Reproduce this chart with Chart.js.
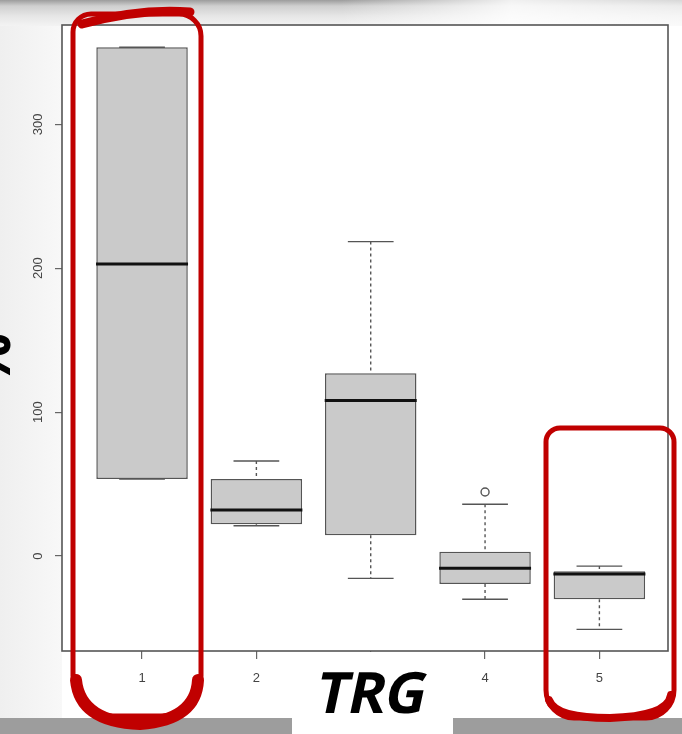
<!DOCTYPE html>
<html>
<head>
<meta charset="utf-8">
<script src="https://cdn.jsdelivr.net/npm/chart.js@4.4.1/dist/chart.umd.min.js"></script>
<style>
    html, body { margin: 0; padding: 0; }
    body { width: 682px; height: 734px; position: relative; overflow: hidden; background: #fff; }
    .bg-top {
        position: absolute; left: 0; top: 0; width: 682px; height: 26px;
        background:
            linear-gradient(to right, rgba(255,255,255,0) 0%, rgba(255,255,255,0) 50%, rgba(255,255,255,0.85) 75%, rgba(255,255,255,0.6) 100%),
            linear-gradient(to bottom, #9c9c9c 0px, #cfcfcf 6px, #e6e6e6 16px, #f3f3f3 26px);
    }
    .bg-left {
        position: absolute; left: 0; top: 26px; width: 62px; height: 692px;
        background: linear-gradient(to right, #efefef, #f8f8f8);
    }
    .bg-bottom { position: absolute; left: 0; top: 718px; width: 682px; height: 16px; background: #9d9d9d; }
    #wrap { position: absolute; left: 0; top: 0; width: 682px; height: 734px; }
    .xtitle {
        position: absolute; left: 292px; top: 652px; width: 161px; height: 82px; background: #fff;
        text-align: center;
    }
    .xtitle span {
        display: inline-block; transform: skewX(-12deg);
        font-family: 'Open Sans', 'Noto Sans', sans-serif; font-weight: 700; font-style: normal;
        font-size: 57px; color: #000; line-height: 78px; letter-spacing: -1px;
    }
    .ytitle {
        position: absolute; left: -51px; top: 320px; width: 80px; height: 80px;
        font-family: 'Open Sans', 'Noto Sans', sans-serif; font-weight: 700;
        font-size: 60px; color: #000; text-align: center; line-height: 80px;
        transform: rotate(90deg);
    }
</style>
</head>
<body>
<div class="bg-top"></div>
<div class="bg-left"></div>
<div class="bg-bottom"></div>
<div id="wrap"><canvas id="boxChart" width="682" height="734"></canvas></div>
<div class="ytitle">%</div>
<div class="xtitle"><span>TRG</span></div>
<script>
// TRG groups and five-number summaries
const categories = [1, 2, 3, 4, 5];
const xTickLabels = ['1', '2', '3', '4', '5'];
const yTickValues = [0, 100, 200, 300];
const lowerQuartile = [53.5, 22, 14.5, -19.5, -30];
const upperQuartile = [353.5, 53.5, 127, 3, -10.5];
const medians = [203, 32, 108, -8.5, -12.5];
const whiskerLow = [53.5, 21, -15.5, -30, -51];
const whiskerHigh = [353.5, 66, 218.5, 36, -7];
const outlierGroups = [4];
const outlierValues = [44.5];

const BOX_HALF = 0.4;
const CAP_HALF = 0.2;

const whiskerPlugin = {
    id: 'whiskers',
    beforeDatasetsDraw(chart) {
        const { ctx, scales: { x, y } } = chart;
        ctx.save();
        ctx.strokeStyle = '#555';
        ctx.lineWidth = 1.4;
        categories.forEach((c, i) => {
            const px = x.getPixelForValue(c);
            const capL = x.getPixelForValue(c - CAP_HALF);
            const capR = x.getPixelForValue(c + CAP_HALF);
            const yHi = y.getPixelForValue(whiskerHigh[i]);
            const yLo = y.getPixelForValue(whiskerLow[i]);
            ctx.setLineDash([3, 3]);
            ctx.beginPath();
            ctx.moveTo(px, yHi);
            ctx.lineTo(px, y.getPixelForValue(upperQuartile[i]));
            ctx.moveTo(px, y.getPixelForValue(lowerQuartile[i]));
            ctx.lineTo(px, yLo);
            ctx.stroke();
            ctx.setLineDash([]);
            ctx.beginPath();
            ctx.moveTo(capL, yHi);
            ctx.lineTo(capR, yHi);
            ctx.moveTo(capL, yLo);
            ctx.lineTo(capR, yLo);
            ctx.stroke();
        });
        ctx.restore();
    },
};

const framePlugin = {
    id: 'frame',
    afterDraw(chart) {
        const { ctx, chartArea: a, scales: { y } } = chart;
        ctx.save();
        ctx.strokeStyle = '#555';
        ctx.lineWidth = 1.6;
        ctx.strokeRect(a.left, a.top, a.right - a.left, a.bottom - a.top);

        // y tick labels, rotated like base R
        ctx.fillStyle = '#444';
        ctx.font = '13px "Liberation Sans", Arial, sans-serif';
        ctx.textAlign = 'center';
        ctx.textBaseline = 'middle';
        yTickValues.forEach((v) => {
            ctx.save();
            ctx.translate(38, y.getPixelForValue(v));
            ctx.rotate(-Math.PI / 2);
            ctx.fillText(String(v), 0, 0);
            ctx.restore();
        });

        // red marker rings
        ctx.strokeStyle = '#c00000';
        ctx.lineCap = 'round';
        ctx.lineWidth = 5;
        ctx.beginPath();
        ctx.roundRect(73, 14, 128, 702, [18, 22, 40, 40]);
        ctx.stroke();
        ctx.lineWidth = 12;
        ctx.beginPath();
        ctx.moveTo(76, 680);
        ctx.quadraticCurveTo(80, 722, 140, 724);
        ctx.quadraticCurveTo(196, 720, 198, 680);
        ctx.stroke();
        ctx.lineWidth = 9;
        ctx.beginPath();
        ctx.moveTo(82, 24);
        ctx.quadraticCurveTo(140, 8, 190, 12);
        ctx.stroke();

        ctx.lineWidth = 5;
        ctx.beginPath();
        ctx.roundRect(546, 428, 128, 290, [14, 14, 28, 28]);
        ctx.stroke();
        ctx.lineWidth = 8;
        ctx.beginPath();
        ctx.moveTo(549, 700);
        ctx.quadraticCurveTo(555, 718, 610, 718);
        ctx.quadraticCurveTo(668, 716, 671, 695);
        ctx.stroke();
        ctx.restore();
    },
};

new Chart(document.getElementById('boxChart'), {
    type: 'bar',
    data: {
        datasets: [
            {
                type: 'scatter',
                label: 'Median',
                data: categories.map((c, i) => ({ x: c, y: medians[i] })),
                pointStyle: 'line',
                radius: 46,
                borderWidth: 3,
                borderColor: '#111',
                order: 1,
            },
            {
                type: 'scatter',
                label: 'Outliers',
                data: outlierGroups.map((g, i) => ({ x: g, y: outlierValues[i] })),
                pointStyle: 'circle',
                radius: 4,
                borderWidth: 1.4,
                borderColor: '#555',
                backgroundColor: 'rgba(0,0,0,0)',
                order: 1,
            },
            {
                label: 'IQR',
                data: categories.map((c, i) => ({ x: c, y: [lowerQuartile[i], upperQuartile[i]] })),
                backgroundColor: '#cacaca',
                borderColor: '#555',
                borderWidth: 1.5,
                borderSkipped: false,
                categoryPercentage: 1,
                barPercentage: BOX_HALF * 2,
                order: 2,
            },
        ],
    },
    options: {
        responsive: false,
        animation: false,
        events: [],
        layout: { autoPadding: false, padding: { left: 0, top: 25, right: 14, bottom: 0 } },
        plugins: { legend: { display: false }, tooltip: { enabled: false } },
        scales: {
            x: {
                type: 'linear',
                min: 0.3,
                max: 5.6,
                offset: false,
                afterFit: (s) => { s.height = 83; },
                border: { display: false },
                grid: { offset: false, drawOnChartArea: false, tickLength: 8, color: '#666', lineWidth: 1.2 },
                ticks: {
                    stepSize: 1,
                    includeBounds: false,
                    maxRotation: 0,
                    padding: 12,
                    color: '#444',
                    font: { size: 13, family: '"Liberation Sans", Arial, sans-serif' },
                    callback: (v) => xTickLabels[v - 1] ?? '',
                },
            },
            y: {
                min: -66,
                max: 369,
                afterFit: (s) => { s.width = 62; },
                border: { display: false },
                grid: { drawOnChartArea: false, tickLength: 7, color: '#666', lineWidth: 1.2 },
                ticks: { display: false, stepSize: 100, includeBounds: false },
            },
        },
    },
    plugins: [whiskerPlugin, framePlugin],
});
</script>
</body>
</html>
